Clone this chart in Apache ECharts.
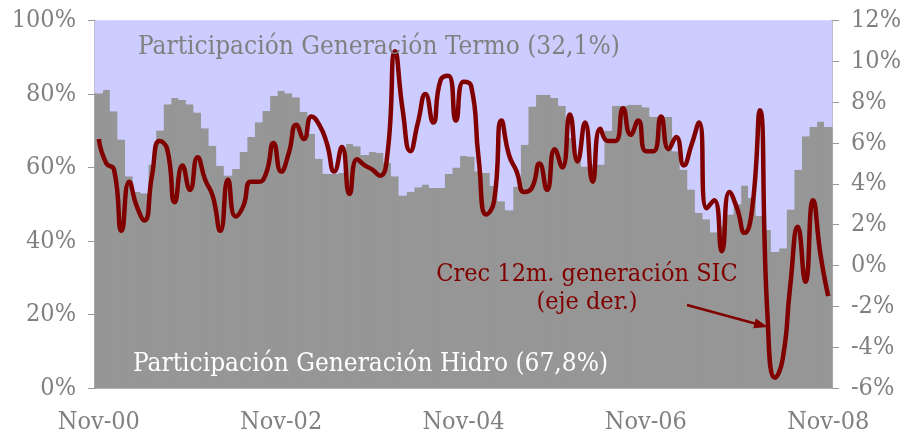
<!DOCTYPE html>
<html>
<head>
<meta charset="utf-8">
<title>Generación SIC</title>
<script src="https://cdn.jsdelivr.net/npm/echarts@6/dist/echarts.min.js"></script>
<style>
	html, body { margin: 0; padding: 0; background: #fff; }
	#chart { width: 904px; height: 435px; }
</style>
</head>
<body>
<div id="chart"></div>
<script>
// meses desde Nov-00 hasta Nov-08
const meses = ['Ene', 'Feb', 'Mar', 'Abr', 'May', 'Jun', 'Jul', 'Ago', 'Sep', 'Oct', 'Nov', 'Dic']
const categorias = []
for (let k = 0; k < 97; k++) {
	const m = (10 + k) % 12
	const a = 2000 + Math.floor((10 + k) / 12)
	categorias.push(meses[m] + '-' + String(a).slice(2))
}

// participación hidro (%), eje izq.
const hidro = [
	80.2, 81.1, 75.3, 67.6, 57.6, 53.3, 53.0, 60.8, 70.1, 77.2, 78.9, 78.4,
	77.2, 75.0, 70.7, 65.9, 60.5, 57.8, 59.6, 64.2, 68.3, 72.3, 75.4, 79.5,
	80.9, 80.2, 79.1, 75.1, 69.2, 62.4, 58.3, 58.3, 58.5, 66.4, 65.8, 63.4,
	64.2, 64.0, 61.2, 57.6, 52.4, 53.4, 54.6, 55.4, 54.4, 54.4, 58.2, 60.0,
	63.1, 63.0, 59.0, 58.5, 55.0, 50.8, 48.4, 54.8, 66.2, 76.6, 79.8, 79.8,
	78.9, 76.8, 68.0, 63.0, 60.3, 60.8, 60.8, 70.0, 76.8, 76.8, 77.1, 77.1,
	76.4, 73.8, 73.8, 73.8, 64.4, 59.4, 54.0, 47.7, 45.9, 42.4, 44.0, 47.2,
	50.0, 55.1, 51.7, 46.8, 43.0, 37.0, 38.0, 48.6, 59.4, 68.5, 71.0, 72.5,
	71.0
]
// participación termo = resto hasta 100%
const termo = hidro.map(v => +(100 - v).toFixed(1))

// crecimiento 12m generación SIC (%), eje der.
const crec = [
	6.2, 5.0, 4.7, 1.7, 4.1, 2.9, 2.2, 4.4, 6.1, 5.7, 3.1, 4.9,
	3.7, 5.3, 4.2, 3.4, 1.7, 4.2, 2.4, 2.9, 4.1, 4.1, 4.5, 6.0,
	4.6, 5.5, 6.9, 6.2, 7.3, 6.9, 6.0, 4.6, 5.8, 3.5, 5.2, 4.9,
	4.7, 4.4, 5.5, 10.5, 7.6, 5.6, 7.0, 8.4, 7.0, 9.1, 9.3, 7.1,
	9.0, 8.8, 5.2, 2.5, 3.1, 7.1, 5.4, 4.6, 3.6, 3.8, 5.0, 3.7,
	5.7, 4.8, 7.4, 5.1, 7.0, 4.1, 6.7, 6.1, 6.1, 7.7, 6.4, 7.1,
	5.6, 5.6, 7.3, 5.7, 6.3, 4.9, 5.9, 7.0, 2.8, 3.2, 0.7, 3.6,
	2.8, 1.6, 2.8, 7.6, -2.4, -5.5, -4.6, -1.0, 1.9, -0.8, 3.2, 0.5,
	-1.5
]

const fuente = '"DejaVu Serif Condensed", "DejaVu Serif", serif'
const gris = '#808080'
const rojo = '#800000'

// columnas pegadas (sin separación) dibujadas con la escala del eje
function columna(color) {
	return function (params, api) {
		const i = api.value(0)
		const p0 = api.coord([i, api.value(1)])
		const p1 = api.coord([i, api.value(2)])
		const w = api.size([1, 0])[0]
		return {
			type: 'rect',
			shape: { x: p0[0] - w / 2 - 0.4, y: p1[1], width: w + 0.8, height: p0[1] - p1[1] },
			style: { fill: color }
		}
	}
}

const chartDom = echarts.init(document.getElementById('chart'))
const option = {
	animation: false,
	grid: {
		left: 95,
		right: 67,
		top: 20.5,
		bottom: 46,
		show: true,
		backgroundColor: '#CCCCFF',
		borderWidth: 0
	},
	xAxis: {
		type: 'category',
		data: categorias,
		boundaryGap: true,
		axisLine: { lineStyle: { color: '#999', width: 1.5 } },
		axisTick: { interval: 23, length: 7, lineStyle: { color: '#999' } },
		axisLabel: {
			interval: 23,
			margin: 22,
			color: gris,
			fontFamily: fuente,
			fontSize: 25
		},
		splitLine: { show: false }
	},
	yAxis: [ {
		type: 'value',
		min: 0,
		max: 100,
		interval: 20,
		axisLine: { show: true, lineStyle: { color: '#999', width: 1.5 } },
		axisTick: { show: true, length: 7, lineStyle: { color: '#999' } },
		axisLabel: {
			formatter: '{value}%',
			margin: 19,
			color: gris,
			fontFamily: fuente,
			fontSize: 25
		},
		splitLine: { show: false }
	}, {
		type: 'value',
		min: -6,
		max: 12,
		interval: 2,
		position: 'right',
		axisLine: { show: true, lineStyle: { color: '#999', width: 1.5 } },
		axisTick: { show: true, length: 7, lineStyle: { color: '#999' } },
		axisLabel: {
			formatter: '{value}%',
			margin: 19,
			color: gris,
			fontFamily: fuente,
			fontSize: 25
		},
		splitLine: { show: false }
	} ],
	series: [ {
		name: 'Hidro',
		type: 'custom',
		renderItem: columna('#969696'),
		encode: { x: 0, y: [1, 2] },
		data: hidro.map((v, i) => [i, 0, v])
	}, {
		name: 'Termo',
		type: 'custom',
		renderItem: columna('#CCCCFF'),
		encode: { x: 0, y: [1, 2] },
		data: termo.map((v, i) => [i, hidro[i], hidro[i] + v])
	}, {
		name: 'Crec 12m',
		type: 'line',
		yAxisIndex: 1,
		smooth: 0.55,
		symbol: 'none',
		z: 5,
		lineStyle: { color: rojo, width: 4.5 },
		data: crec
	} ],
	graphic: [ {
		type: 'text',
		z: 100,
		left: 138,
		top: 34,
		style: { text: 'Participación Generación Termo (32,1%)', fill: gris, font: '26px ' + fuente }
	}, {
		type: 'text',
		z: 100,
		left: 133,
		top: 351,
		style: { text: 'Participación Generación Hidro (67,8%)', fill: '#fff', font: '26px ' + fuente }
	}, {
		type: 'text',
		z: 100,
		x: 587,
		y: 262,
		style: { text: 'Crec 12m. generación SIC', fill: rojo, font: '25px ' + fuente, align: 'center', verticalAlign: 'top' }
	}, {
		type: 'text',
		z: 100,
		x: 587,
		y: 290,
		style: { text: '(eje der.)', fill: rojo, font: '25px ' + fuente, align: 'center', verticalAlign: 'top' }
	}, {
		type: 'line',
		z: 100,
		shape: { x1: 687, y1: 305, x2: 755, y2: 323.5 },
		style: { stroke: rojo, lineWidth: 2.5 }
	}, {
		type: 'polygon',
		z: 100,
		shape: { points: [[768, 327], [753.2, 328.3], [755.8, 318.5]] },
		style: { fill: rojo }
	} ]
}
chartDom.setOption(option, true)
</script>
</body>
</html>
